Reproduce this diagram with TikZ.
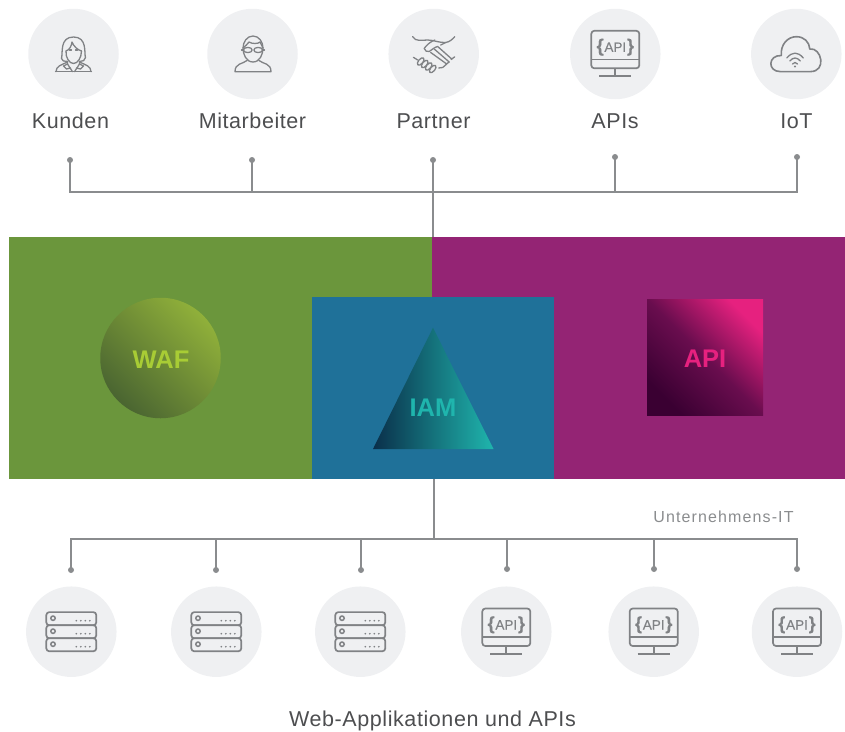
\documentclass[tikz,border=0pt]{standalone}
\usepackage{fontspec}
\setmainfont{Liberation Sans}
\definecolor{discbg}{HTML}{EFF0F2}
\definecolor{icongrey}{HTML}{808285}
\definecolor{linegrey}{HTML}{8A8C8E}
\definecolor{labelgrey}{HTML}{4D4E50}
\definecolor{wafgreen}{HTML}{6B963C}
\definecolor{apipurple}{HTML}{942474}
\definecolor{iamblue}{HTML}{1F7199}
\definecolor{wafdark}{HTML}{4A6531}
\definecolor{waflight}{HTML}{90B03A}
\definecolor{waftext}{HTML}{A8CC35}
\definecolor{iamdark}{HTML}{0A2F4A}
\definecolor{iamlight}{HTML}{1FB5AD}
\definecolor{apidark}{HTML}{3A0032}
\definecolor{apimid}{HTML}{690D4E}
\definecolor{apilight}{HTML}{E6217F}
\newcommand{\lblfont}{\fontsize{21.5}{24}\selectfont\addfontfeature{LetterSpace=2.7}}
\tikzset{
  disc/.style={circle,fill=discbg,minimum size=90.5pt,inner sep=0pt},
  lbl/.style={anchor=base,text=labelgrey,inner sep=0pt,font=\lblfont},
  dotn/.style={circle,fill=linegrey,minimum size=6pt,inner sep=0pt},
  conn/.style={draw=linegrey,line width=1.4pt},
  ic/.style={draw=icongrey,line width=1.3pt,line cap=round,line join=round},
  ict/.style={draw=icongrey,line width=1.7pt,line join=round},
  block/.style={rectangle,inner sep=0pt},
  big/.style={inner sep=0pt,font=\fontsize{25.5}{28}\selectfont\bfseries},
  serverpic/.pic={
    \foreach \yy in {-13,0,13}{
      \draw[ict,rounded corners=3pt] (-25,\yy-6.6) rectangle (25,\yy+6.6);
      \draw[icongrey,line width=1.5pt] (-18.3,\yy-.5) circle (2.2pt);
      \foreach \xx in {5,9.5,14,18.5}{\fill[icongrey] (\xx,\yy+2) circle (.95pt);}
    }
  },
  apipic/.pic={
    \draw[ict,rounded corners=3pt] (-24,-23.2) rectangle (24,14.3);
    \draw[ict] (-24,5.6) -- (24,5.6);
    \draw[ict] (0,14.3) -- (0,22.3);
    \draw[ict] (-16,22.3) -- (16,22.3);
    \node[text=icongrey,inner sep=0pt,anchor=base] at (0,-2.2) {\fontsize{13.5}{14}\selectfont\addfontfeature{FakeBold=0.4}\textbf{\fontsize{18}{14}\selectfont\{}\kern.8pt API\kern.8pt\textbf{\fontsize{18}{14}\selectfont\}}};
  },
  womanpic/.pic={
    \draw[ic] (-6,7.5) .. controls (-9,7.5) and (-12,7) .. (-12,4.5) .. controls (-10.5,-1) and (-14,-17) .. (0,-17) .. controls (14,-17) and (10.5,-1) .. (12,3.5) .. controls (12,6.5) and (9,7.5) .. (6,7.5);
    \draw[ic] (-7.5,-3) .. controls (-8,4) and (-4,9.5) .. (0,9.5) .. controls (4,9.5) and (8,4) .. (8,-3);
    \draw[ic] (-7.5,-3) .. controls (-4,-4) and (-2,-8) .. (-1.5,-12) .. controls (0,-8) and (4,-4) .. (8,-3);
    \draw[ic] (-4,-4) -- (-2,-4) (2,-4) -- (4,-4);
    \draw[ic] (-17.5,17.7) .. controls (-17.5,12) and (-12,11) .. (-6,8) -- (-6,10) -- (-1,17.7) (17.5,17.7) .. controls (17.5,12) and (12,11) .. (6,8) -- (6,10) -- (1,17.7);
    \draw[ic] (-18,17.7) -- (18,17.7);
    \draw[ic] (-6,10) -- (-10,12) -- (-7,15) -- (-3,14) (6,10) -- (10,12) -- (7,15) -- (3,14);
  },
  manpic/.pic={
    \draw[ic] (-10,-6) .. controls (-10,-12) and (-6,-18) .. (0,-18) .. controls (6,-18) and (10,-12) .. (10,-6) .. controls (10,0) and (7,8) .. (0,8) .. controls (-7,8) and (-10,0) .. (-10,-6) -- cycle;
    \draw[ic] (-10,-6) .. controls (-7,-8) and (-6,-10) .. (-4,-12) .. controls (-1,-10) and (5,-10) .. (7,-12) .. controls (8,-10) and (9,-8) .. (10,-6);
    \draw[ic] (-11.5,-4) -- (-10,-4) (10,-4) -- (11.5,-4);
    \draw[ic] (-5.2,-4) circle[x radius=4.4pt,y radius=2.6pt] (5.2,-4) circle[x radius=4.4pt,y radius=2.6pt];
    \draw[ic] (-6,6.5) .. controls (-10,10) and (-18,9) .. (-18,17.7) -- (18,17.7) .. controls (18,9) and (10,10) .. (6,6.5);
  },
  shakepic/.pic={
    \draw[ic] (-21,-17.3) .. controls (-18,-12) and (-12,-14) .. (-6,-14) .. controls (0,-14) and (6,-11) .. (12,-11.5) .. controls (16,-12) and (19,-15) .. (21,-17.3);
    \draw[ic] (1,-14) .. controls (-4,-12) and (-8,-8) .. (-9.5,-5.5) .. controls (-9,-3) and (-6.5,-2) .. (-4.5,-2.5) .. controls (-2,-4) and (1,-7) .. (4,-7.5) -- (18,5);
    \draw[ic] (12,-11.5) -- (7,-9);
    \draw[ic] (-3,-1.5) -- (13,10) (0.5,-5)-- (15.5,8);
    \draw[ic] (15.5,8) -- (12,10.5) (13,10) -- (9,13.5) -- (5,14);
    \draw[ic] (21,2.8) -- (17.5,5.5);
    \draw[ic] (-20.3,3.3) -- (-16,6);
    \foreach \a/\b in {-13/7.5,-9/10,-5/12.5,-1/15}{
      \draw[ic,fill=discbg,shift={(\a,\b)},rotate=50] (0,0) circle[x radius=4.4pt,y radius=2.3pt];
    }
  },
  cloudpic/.pic={
    \draw[draw=icongrey,line width=1.6pt,line join=round] (-16,17.6) .. controls (-29,17.6) and (-28.5,1) .. (-15,1.5) .. controls (-16,-9) and (-9,-17.3) .. (0,-17.3) .. controls (8,-17.3) and (13,-12) .. (13.5,-5) .. controls (25,-7) and (31,17.6) .. (14,17.6) -- cycle;
    \draw[ic] (-9.5,4) .. controls (-4,-2.5) and (1.5,-2.5) .. (7,4);
    \draw[ic] (-6.5,7) .. controls (-3,3) and (0.5,3) .. (4,7);
    \draw[ic] (-3.8,10) .. controls (-2,8) and (-.6,8) .. (1.2,10);
    \fill[icongrey] (-1.3,12.5) circle (1.1pt);
  }
}
\begin{document}
\begin{tikzpicture}[x=1pt,y=-1pt]
\useasboundingbox (0,0) rectangle (845,731);
% connectors' named ends
\coordinate (topin) at (433,237);
\coordinate (botout) at (434,479);
\coordinate (j1) at (70,192);
\coordinate (j2) at (252,192);
\coordinate (j3) at (433,192);
\coordinate (j4) at (615,192);
\coordinate (j5) at (797,192);
\coordinate (b0) at (434,539);
\coordinate (b1) at (71,539);
\coordinate (b2) at (216,539);
\coordinate (b3) at (361,539);
\coordinate (b4) at (507,539);
\coordinate (b5) at (654,539);
\coordinate (b6) at (797,539);
% blocks
\node[block,fill=wafgreen,minimum width=423pt,minimum height=242pt] (green) at (220.5,358) {};
\node[block,fill=apipurple,minimum width=413pt,minimum height=242pt] (purple) at (638.5,358) {};
\node[block,fill=iamblue,minimum width=242pt,minimum height=182pt] (blue) at (433,388) {};
% WAF
\node[circle,minimum size=120.5pt,inner sep=0pt,bottom color=wafdark,top color=waflight,shading angle=-45] (wafdisc) at (160.5,358) {};
\node[big,text=waftext] (waf) at (161,360) {WAF};
% IAM
\shade[left color=iamdark,right color=iamlight] (433,327.7) -- (493.5,449) -- (373,449) -- cycle;
\node[big,text=iamlight] (iam) at (433,408) {IAM};
% API
\node[block,minimum size=116pt,bottom color=apidark,top color=apilight,middle color=apimid,shading angle=-45] (apisq) at (705,357) {};
\node[big,text=apilight] (api) at (705,359) {API};
% top row
\node[disc] (c1) at (73.5,54) {}; \pic at (73.5,54) {womanpic};
\node[disc] (c2) at (252.5,54) {}; \pic at (253,54) {manpic};
\node[disc] (c3) at (433.7,54) {}; \pic at (433.7,54) {shakepic};
\node[disc] (c4) at (615.3,54) {}; \pic at (615.3,54) {apipic};
\node[disc] (c5) at (796.3,54) {}; \pic at (796.3,54) {cloudpic};
\node[lbl] (l1) at (70.5,128) {Kunden};
\node[lbl] (l2) at (252.5,128) {Mitarbeiter};
\node[lbl] (l3) at (433.5,128) {Partner};
\node[lbl] (l4) at (615,128) {APIs};
\node[lbl] (l5) at (796.5,128) {IoT};
% top connectors
\node[dotn] (d1) at (70,160) {};
\node[dotn] (d2) at (252,160) {};
\node[dotn] (d3) at (433,160) {};
\node[dotn] (d4) at (615,157) {};
\node[dotn] (d5) at (797,157) {};
\draw[conn] (d1.center) -- (j1) -- (j5) -- (d5.center);
\draw[conn] (d2.center) -- (j2);
\draw[conn] (d4.center) -- (j4);
\draw[conn] (d3.center) -- (topin);
% bottom connectors
\node[dotn] (e1) at (71,570) {};
\node[dotn] (e2) at (216,570) {};
\node[dotn] (e3) at (361,570) {};
\node[dotn] (e4) at (507,569) {};
\node[dotn] (e5) at (654,569) {};
\node[dotn] (e6) at (797,569) {};
\draw[conn] (botout) -- (b0);
\draw[conn] (e1.center) -- (b1) -- (b6) -- (e6.center);
\draw[conn] (e2.center) -- (b2);
\draw[conn] (e3.center) -- (b3);
\draw[conn] (e4.center) -- (b4);
\draw[conn] (e5.center) -- (b5);
\node[anchor=base,inner sep=0pt,text=linegrey,font=\fontsize{16}{18}\selectfont\addfontfeature{LetterSpace=7}] (unt) at (723.5,522) {Unternehmens-IT};
% bottom row
\node[disc] (s1) at (71.3,631.7) {}; \pic at (71.3,631.7) {serverpic};
\node[disc] (s2) at (216.3,631.7) {}; \pic at (216.3,631.7) {serverpic};
\node[disc] (s3) at (360.3,631.7) {}; \pic at (360.3,631.7) {serverpic};
\node[disc] (s4) at (506.3,631.7) {}; \pic at (506.3,631.7) {apipic};
\node[disc] (s5) at (653.7,631.7) {}; \pic at (653.7,631.7) {apipic};
\node[disc] (s6) at (797,631.7) {}; \pic at (797,631.7) {apipic};
\node[lbl] (web) at (432.5,726.5) {Web-Applikationen und APIs};
\end{tikzpicture}
\end{document}
